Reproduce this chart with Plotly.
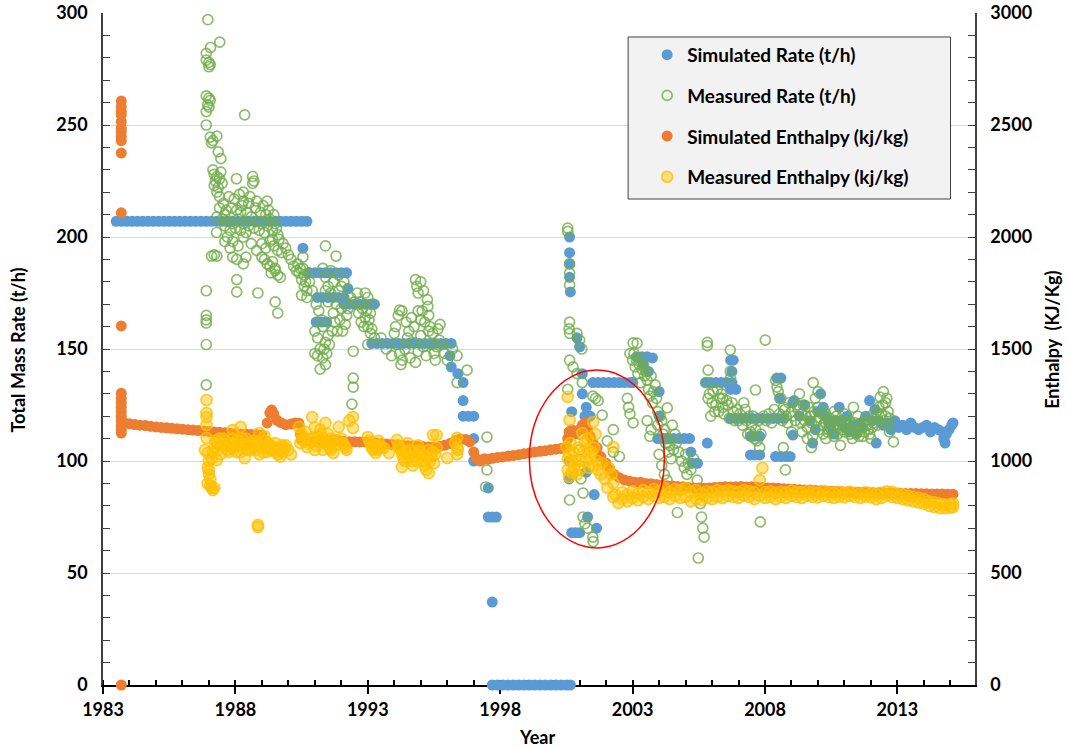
import plotly.graph_objects as go

# ---------------- DATA ----------------
# Simulated total mass rate (year, t/h)
sim_rate = [
    (1983.5, 207), (1983.7, 207), (1983.9, 207), (1984.1, 207), (1984.3, 207), (1984.5, 207),
    (1984.7, 207), (1984.9, 207), (1985.1, 207), (1985.3, 207), (1985.5, 207), (1985.7, 207),
    (1985.9, 207), (1986.1, 207), (1986.3, 207), (1986.5, 207), (1986.7, 207), (1986.9, 207),
    (1987.1, 207), (1987.3, 207), (1987.5, 207), (1987.7, 207), (1987.9, 207), (1988.1, 207),
    (1988.3, 207), (1988.5, 207), (1988.7, 207), (1988.9, 207), (1989.1, 207), (1989.3, 207),
    (1989.5, 207), (1989.7, 207), (1989.9, 207), (1990.1, 207), (1990.3, 207), (1990.5, 207),
    (1990.7, 207), (1990.55, 195),
    (1990.8, 184), (1991.0, 184), (1991.2, 184), (1991.4, 184), (1991.6, 184), (1991.8, 184),
    (1992.0, 184), (1992.2, 184),
    (1991.1, 173), (1991.3, 173), (1991.5, 173), (1991.7, 173), (1991.9, 173), (1992.1, 173),
    (1992.25, 177),
    (1992.1, 170), (1992.3, 170), (1992.5, 170), (1992.7, 170), (1992.9, 170), (1993.1, 170), (1993.25, 170),
    (1991.05, 162), (1991.25, 162), (1991.45, 162),
    (1993.15, 152.5), (1993.35, 152.5), (1993.55, 152.5), (1993.75, 152.5), (1993.95, 152.5),
    (1994.15, 152.5), (1994.35, 152.5), (1994.55, 152.5), (1994.75, 152.5), (1994.95, 152.5),
    (1995.15, 152.5), (1995.35, 152.5), (1995.55, 152.5), (1995.75, 152.5), (1995.95, 152.5),
    (1996.15, 152.5),
    (1996.1, 147), (1996.15, 142), (1996.4, 139), (1996.6, 135), (1996.6, 127), (1996.6, 120),
    (1996.8, 120), (1997.0, 120), (1997.0, 110), (1997.0, 100), (1997.55, 88), (1997.55, 75),
    (1997.7, 75), (1997.85, 75), (1997.7, 37),
    (1997.7, 0), (1997.9, 0), (1998.1, 0), (1998.3, 0), (1998.5, 0), (1998.7, 0), (1998.9, 0),
    (1999.1, 0), (1999.3, 0), (1999.5, 0), (1999.7, 0), (1999.9, 0), (2000.1, 0), (2000.3, 0),
    (2000.5, 0), (2000.65, 0),
    (2000.62, 200), (2000.62, 193), (2000.62, 188), (2000.62, 182), (2000.65, 175.5),
    (2000.6, 100), (2000.6, 92),
    (2000.9, 155), (2001.0, 151), (2001.1, 139), (2001.1, 130), (2001.25, 124), (2000.7, 122),
    (2001.2, 120), (2001.4, 120), (2001.25, 95), (2001.55, 85), (2001.3, 75), (2001.64, 70),
    (2000.7, 68), (2000.85, 68), (2001.0, 68),
    (2001.5, 135), (2001.7, 135), (2001.9, 135), (2002.1, 135), (2002.3, 135), (2002.5, 135),
    (2002.7, 135), (2002.9, 135), (2003.0, 135),
    (2003.15, 146.5), (2003.35, 146.5), (2003.55, 146.5), (2003.75, 146), (2003.4, 143), (2003.6, 140),
    (2004.0, 131), (2004.0, 120),
    (2003.95, 110), (2004.15, 110), (2004.35, 110), (2004.55, 110), (2004.75, 110), (2004.95, 110),
    (2005.15, 110), (2005.2, 104), (2005.25, 99), (2005.45, 99),
    (2005.82, 108),
    (2005.75, 135), (2005.95, 135), (2006.15, 135), (2006.35, 135), (2006.55, 135), (2006.75, 135),
    (2006.7, 145), (2006.8, 145), (2006.75, 140), (2006.7, 132), (2006.9, 132),
    (2006.7, 119), (2006.9, 119), (2007.1, 119), (2007.3, 119), (2007.5, 119), (2007.7, 119),
    (2007.9, 119), (2008.1, 119), (2008.3, 119), (2008.5, 119), (2008.7, 119),
    (2007.45, 111), (2007.6, 111), (2007.8, 111), (2007.45, 102.7), (2007.6, 102.7), (2007.8, 102.7),
    (2008.45, 137), (2008.6, 137), (2008.55, 128), (2008.4, 102), (2008.6, 102), (2008.8, 102),
    (2008.95, 102), (2009.05, 111.6), (2009.05, 126),
    (2009.1, 127), (2009.3, 120), (2009.5, 125), (2009.7, 118), (2009.8, 108), (2009.9, 114),
    (2010.0, 122), (2010.1, 130), (2010.2, 124), (2010.3, 120), (2010.4, 117), (2010.5, 114),
    (2010.6, 112), (2010.7, 118), (2010.8, 124), (2010.9, 117), (2011.0, 115), (2011.1, 120),
    (2011.2, 113), (2011.3, 116), (2011.45, 112), (2011.6, 117), (2011.7, 115), (2011.8, 120),
    (2011.95, 127), (2012.05, 118), (2012.15, 123), (2012.2, 108),
    (2012.3, 118), (2012.45, 116), (2012.6, 117), (2012.75, 114), (2012.9, 118), (2013.05, 115),
    (2013.2, 116), (2013.35, 114), (2013.5, 117), (2013.65, 115), (2013.8, 114), (2013.95, 115),
    (2014.1, 116), (2014.25, 113), (2014.4, 115), (2014.55, 114), (2014.7, 113), (2014.75, 110),
    (2014.8, 108), (2014.85, 112), (2014.95, 114), (2015.05, 116), (2015.1, 117),
]

# Measured total mass rate (year, t/h)
meas_rate = [
    (1986.96, 297), (1987.41, 287), (1987.06, 284.6), (1986.9, 282), (1986.9, 279), (1987.0, 278),
    (1987.05, 277), (1987.0, 276), (1986.9, 263), (1987.0, 262), (1986.95, 259), (1987.0, 258),
    (1987.05, 261), (1986.9, 256), (1986.9, 250), (1988.35, 254.5),
    (1987.05, 244.6), (1987.15, 243), (1987.1, 242), (1987.3, 245),
    (1987.15, 230), (1987.2, 228), (1987.3, 227), (1987.25, 225), (1987.4, 226), (1987.5, 224),
    (1987.35, 222), (1987.2, 223), (1987.45, 229),
    (1988.04, 226), (1988.65, 227), (1988.65, 224), (1988.7, 225), (1988.3, 220), (1987.4, 218),
    (1988.3, 216), (1988.5, 215), (1988.8, 216), (1989.2, 216), (1987.3, 209),
    (1987.5, 208), (1987.6, 205), (1987.7, 207), (1987.8, 203), (1987.9, 206), (1988.0, 204),
    (1988.1, 208), (1988.2, 203), (1988.3, 206), (1988.4, 202), (1988.5, 205), (1988.6, 209),
    (1988.7, 204), (1988.8, 207), (1988.9, 203), (1989.0, 206), (1989.1, 202), (1989.2, 205),
    (1989.3, 208), (1989.4, 203), (1989.5, 206), (1989.6, 201), (1987.6, 210), (1988.2, 211),
    (1987.55, 215), (1987.65, 212), (1987.75, 218), (1987.85, 213), (1987.95, 217), (1988.05, 212),
    (1988.15, 219), (1988.25, 214), (1988.45, 211), (1988.55, 218), (1988.75, 213), (1988.95, 211),
    (1989.05, 214), (1989.15, 210), (1989.25, 212), (1989.45, 210), (1989.55, 204), (1989.65, 199),
    (1989.8, 197), (1989.9, 195), (1990.0, 192), (1990.1, 190), (1990.2, 187), (1990.3, 185),
    (1987.6, 198), (1987.8, 195), (1988.6, 197), (1988.8, 194), (1989.15, 195), (1987.4, 213),
    (1987.3, 220), (1987.45, 235), (1987.35, 238),
    (1987.29, 202), (1987.7, 200), (1987.9, 198), (1988.1, 196), (1988.3, 200), (1989.0, 197),
    (1989.3, 198), (1989.45, 196), (1989.6, 194), (1989.75, 193), (1989.4, 199), (1991.4, 196),
    (1991.8, 191.5), (1990.55, 191), (1987.1, 191.5), (1987.3, 191.5), (1987.9, 191), (1988.4, 191),
    (1989.0, 191), (1987.2, 192), (1988.05, 190), (1988.3, 188), (1989.1, 190), (1989.2, 188),
    (1989.3, 187), (1989.4, 189), (1989.5, 186), (1989.35, 184), (1989.6, 183), (1989.7, 182),
    (1989.5, 185),
    (1986.9, 176), (1988.05, 181), (1988.05, 175.5), (1988.85, 175), (1989.5, 171), (1989.6, 166),
    (1986.9, 165), (1986.9, 163), (1986.9, 161.6), (1986.9, 152), (1986.9, 134),
    (1990.4, 184), (1990.5, 181), (1990.6, 178), (1990.7, 176), (1990.5, 174), (1990.8, 180),
    (1990.45, 186), (1990.6, 183), (1990.7, 173),
    (1990.35, 188), (1990.55, 186), (1990.65, 180), (1990.75, 184), (1990.9, 176), (1991.05, 170),
    (1991.15, 167), (1991.25, 163), (1991.35, 150), (1991.45, 148), (1991.55, 152), (1991.65, 158),
    (1991.75, 162), (1991.85, 158), (1991.95, 163), (1992.05, 158), (1992.15, 161), (1992.25, 168),
    (1992.35, 173), (1992.5, 171), (1992.65, 166), (1992.75, 162), (1992.85, 160), (1992.95, 167),
    (1993.05, 163), (1993.15, 159), (1993.25, 155),
    (1991.0, 158), (1991.1, 155), (1991.2, 150), (1991.3, 146), (1991.4, 143), (1991.1, 147),
    (1991.2, 141), (1991.4, 153), (1991.5, 156), (1991.3, 160), (1991.0, 148),
    (1991.3, 186), (1991.4, 182), (1991.5, 178), (1991.6, 175), (1991.7, 180), (1991.8, 170),
    (1991.9, 176), (1992.0, 168), (1992.1, 172), (1992.2, 165), (1991.6, 185), (1991.9, 183),
    (1992.0, 178), (1991.5, 171), (1991.7, 166), (1992.1, 180), (1991.4, 176),
    (1992.45, 149), (1992.45, 137), (1992.45, 133), (1992.4, 125.4),
    (1992.6, 175), (1992.7, 171), (1992.8, 168), (1992.9, 164), (1993.0, 160), (1993.1, 157),
    (1993.0, 173), (1992.9, 175), (1993.1, 166), (1993.2, 170), (1993.0, 152),
    (1994.29, 167), (1994.2, 167.4),
    (1994.0, 157), (1994.1, 152), (1994.2, 148), (1994.3, 145), (1994.4, 150), (1994.5, 155),
    (1994.6, 146), (1994.7, 153), (1994.8, 144), (1994.9, 149), (1995.0, 156), (1995.1, 151),
    (1995.2, 147), (1995.3, 158), (1995.4, 152), (1995.5, 148), (1995.6, 151), (1995.7, 154),
    (1994.25, 143), (1994.55, 158),
    (1993.5, 155), (1993.7, 150), (1993.9, 147), (1994.05, 160), (1994.15, 165), (1994.45, 162),
    (1994.65, 164), (1994.75, 160), (1995.05, 167), (1995.15, 162), (1995.25, 172), (1995.45, 157),
    (1995.55, 145), (1995.65, 159), (1995.8, 152), (1995.9, 148), (1996.0, 145), (1996.2, 150),
    (1994.8, 181), (1994.85, 178), (1994.9, 175), (1995.0, 180), (1995.1, 176),
    (1995.27, 169), (1995.3, 165), (1995.35, 160), (1995.0, 163), (1994.9, 167),
    (1995.73, 161), (1996.37, 147), (1996.75, 140.6), (1996.37, 135),
    (1997.5, 110.7), (1997.5, 96), (1997.45, 88.4),
    (2000.55, 204), (2000.55, 202.5), (2000.62, 188), (2000.62, 184), (2000.62, 178.6),
    (2000.62, 162), (2000.6, 159), (2000.62, 157), (2000.9, 157), (2001.0, 154), (2001.08, 150),
    (2000.62, 145), (2000.75, 142), (2000.9, 139), (2001.1, 135), (2000.55, 132), (2001.5, 129),
    (2001.7, 127), (2001.6, 128), (2001.85, 120.5), (2002.27, 114), (2002.04, 109), (2002.27, 104),
    (2002.5, 102), (2000.62, 82.6), (2001.13, 85.7),
    (2001.13, 75), (2001.3, 70), (2001.5, 66), (2001.51, 64), (2001.2, 72),
    (2001.0, 112), (2001.0, 105), (2001.0, 98), (2001.05, 92),
    (2003.02, 152.7), (2003.17, 152.6), (2002.9, 148), (2003.0, 145), (2003.1, 142), (2003.2, 139),
    (2003.3, 146), (2003.4, 143), (2003.5, 140), (2003.55, 136), (2003.3, 135), (2003.6, 132),
    (2003.7, 138), (2003.78, 131), (2003.9, 128), (2003.85, 134),
    (2002.8, 128), (2002.85, 124), (2002.9, 121), (2003.02, 117),
    (2003.55, 118), (2003.7, 114), (2003.65, 111),
    (2003.05, 148), (2003.15, 145), (2003.25, 143), (2003.35, 141), (2003.45, 138), (2003.65, 129),
    (2003.75, 126), (2003.95, 122), (2004.05, 120), (2004.15, 112), (2004.25, 108), (2004.35, 104),
    (2004.45, 101), (2004.55, 105), (2004.65, 108), (2004.75, 104), (2004.85, 100), (2004.95, 97),
    (2005.05, 94),
    (2004.31, 123.7), (2004.1, 118), (2004.2, 114), (2004.3, 110), (2004.4, 107), (2004.5, 116),
    (2004.6, 112), (2003.95, 116),
    (2004.0, 103), (2004.1, 98), (2004.2, 94), (2004.3, 91.5), (2004.69, 77),
    (2005.0, 103), (2005.1, 99), (2005.2, 96), (2005.3, 101), (2005.44, 91.5),
    (2005.56, 81), (2005.6, 75), (2005.65, 70), (2005.7, 66), (2005.48, 56.7),
    (2005.82, 153), (2005.82, 151.5), (2005.85, 140.6),
    (2005.8, 135), (2005.9, 130), (2006.0, 126), (2006.1, 122), (2006.2, 132), (2006.3, 128),
    (2006.4, 124), (2005.95, 120),
    (2005.85, 128), (2006.05, 131), (2006.15, 125), (2006.25, 122), (2006.35, 130), (2006.45, 121),
    (2006.55, 127), (2006.65, 119), (2006.75, 126), (2006.85, 118), (2006.95, 123), (2007.05, 121),
    (2007.15, 116), (2007.25, 123), (2007.35, 112), (2007.55, 120), (2007.65, 114), (2007.75, 118),
    (2007.85, 112), (2007.95, 120), (2008.05, 118), (2008.15, 121), (2008.25, 117), (2008.35, 123),
    (2008.55, 121), (2008.65, 118), (2008.75, 123), (2008.85, 117),
    (2006.69, 149.5), (2006.69, 140), (2006.7, 137),
    (2006.4, 128), (2006.6, 125), (2006.8, 122), (2007.0, 118), (2007.2, 126), (2007.4, 120),
    (2007.3, 118), (2007.45, 113), (2007.6, 110), (2007.8, 106), (2007.5, 116), (2007.7, 109),
    (2007.64, 131.7), (2008.01, 154), (2007.82, 72.8),
    (2008.4, 136), (2008.45, 133), (2008.5, 131), (2008.6, 128), (2008.7, 124), (2008.8, 120),
    (2008.9, 126), (2009.0, 122), (2008.69, 106), (2008.77, 96), (2009.0, 113),
    (2009.82, 135), (2009.3, 130), (2009.2, 125), (2009.4, 121), (2009.5, 118), (2009.6, 115),
    (2009.7, 120), (2009.8, 111), (2009.75, 106),
    (2010.0, 124), (2010.1, 119), (2010.2, 116), (2010.3, 121), (2010.4, 114), (2010.5, 117),
    (2010.6, 111), (2010.7, 120), (2010.85, 107), (2010.8, 115), (2010.9, 118), (2011.0, 113),
    (2011.1, 116), (2011.2, 112), (2011.34, 124), (2011.3, 110), (2011.4, 117), (2011.5, 113),
    (2011.6, 115), (2011.7, 111), (2011.8, 118), (2011.9, 114), (2012.0, 120), (2012.1, 117),
    (2012.2, 122), (2012.35, 128.5), (2012.47, 131), (2012.45, 125), (2012.55, 120),
    (2012.6, 116), (2012.85, 108.5), (2012.7, 113), (2010.2, 112),
    (2009.05, 120), (2009.15, 118), (2009.25, 123), (2009.35, 117), (2009.45, 125), (2009.55, 120),
    (2009.65, 124), (2009.75, 117), (2009.85, 122), (2009.95, 118), (2010.05, 114), (2010.15, 121),
    (2010.25, 117), (2010.35, 113), (2010.45, 119), (2010.55, 115), (2010.65, 118), (2010.75, 112),
    (2010.95, 114), (2011.05, 118), (2011.15, 114), (2011.25, 117), (2011.35, 113), (2011.45, 116),
    (2011.55, 111), (2011.65, 117), (2011.75, 113), (2011.85, 116), (2011.95, 112), (2012.05, 115),
    (2012.15, 119), (2012.25, 116), (2012.3, 124), (2012.4, 121), (2012.5, 118), (2012.55, 126),
    (2012.65, 122), (2012.7, 119), (2012.6, 128), (2009.9, 128), (2010.0, 131), (2010.6, 122),
    (2011.0, 121), (2011.5, 120), (2012.0, 110), (2010.3, 110), (2009.4, 113), (2009.6, 110),
]

# Simulated enthalpy (year, kJ/kg)
sim_enth = [
    (1983.69, 2607), (1983.69, 2582), (1983.69, 2560), (1983.69, 2545), (1983.69, 2515),
    (1983.69, 2487), (1983.69, 2470), (1983.69, 2448), (1983.69, 2430), (1983.69, 2375),
    (1983.69, 2108), (1983.69, 1603), (1983.69, 1302), (1983.69, 1280), (1983.69, 1260),
    (1983.69, 1240), (1983.69, 1220), (1983.69, 1200), (1983.69, 1180), (1983.69, 1160),
    (1983.69, 1140), (1983.69, 1125), (1983.69, 0),
    (1983.8, 1170), (1984.0, 1166), (1984.2, 1163), (1984.4, 1160), (1984.6, 1158), (1984.8, 1155),
    (1985.0, 1152), (1985.2, 1150), (1985.4, 1148), (1985.6, 1146), (1985.8, 1144), (1986.0, 1142),
    (1986.2, 1140), (1986.4, 1138), (1986.6, 1136), (1986.8, 1134), (1987.0, 1132), (1987.2, 1130),
    (1987.4, 1128), (1987.6, 1126), (1987.8, 1124), (1988.0, 1122), (1988.2, 1121), (1988.4, 1120),
    (1988.6, 1118), (1988.8, 1117), (1989.0, 1116), (1989.2, 1170), (1989.3, 1215), (1989.37, 1228),
    (1989.45, 1210), (1989.56, 1183), (1989.7, 1172), (1989.9, 1162), (1990.1, 1165), (1990.25, 1170),
    (1990.4, 1168), (1990.45, 1120), (1990.5, 1094), (1990.7, 1090), (1990.9, 1085), (1991.1, 1088),
    (1991.3, 1090), (1991.5, 1092), (1991.7, 1094), (1991.9, 1090), (1992.1, 1088), (1992.3, 1086),
    (1992.5, 1086), (1992.7, 1085), (1992.9, 1085), (1993.1, 1082), (1993.3, 1080), (1993.5, 1078),
    (1993.7, 1076), (1993.9, 1074), (1994.1, 1072), (1994.3, 1070), (1994.5, 1068), (1994.7, 1067),
    (1994.9, 1065), (1995.1, 1064), (1995.3, 1062), (1995.5, 1062), (1995.7, 1065), (1995.9, 1070),
    (1996.1, 1078), (1996.3, 1090), (1996.5, 1098), (1996.7, 1096), (1996.85, 1085), (1997.0, 1040),
    (1997.1, 1010), (1997.25, 1000), (1997.4, 1010), (1997.55, 1008), (1997.7, 1012), (1997.9, 1016),
    (1998.1, 1018), (1998.3, 1022), (1998.5, 1025), (1998.7, 1028), (1998.9, 1032), (1999.1, 1036),
    (1999.3, 1040), (1999.5, 1043), (1999.7, 1046), (1999.9, 1050), (2000.1, 1053), (2000.3, 1056),
    (2000.5, 1060), (2000.55, 1100), (2000.6, 1130), (2000.7, 1140), (2000.8, 1120), (2000.9, 1130),
    (2001.0, 1140), (2001.1, 1160), (2001.2, 1170), (2001.3, 1140), (2001.4, 1110), (2001.5, 1080),
    (2001.66, 1060), (2001.8, 1020), (2002.0, 990), (2002.15, 960), (2002.3, 940), (2002.5, 925),
    (2002.7, 915), (2002.9, 910), (2003.1, 905), (2003.3, 905), (2003.5, 900), (2003.7, 898),
    (2003.9, 895), (2004.1, 893), (2004.3, 890), (2004.5, 888), (2004.7, 886), (2004.9, 885),
    (2005.1, 882), (2005.3, 880), (2005.5, 880), (2005.7, 878), (2005.9, 880), (2006.1, 882),
    (2006.3, 883), (2006.5, 885), (2006.7, 884), (2006.9, 885), (2007.1, 886), (2007.3, 884),
    (2007.5, 885), (2007.7, 883), (2007.9, 882), (2008.1, 880), (2008.3, 879), (2008.5, 878),
    (2008.7, 876), (2008.9, 875), (2009.1, 874), (2009.3, 872), (2009.5, 871), (2009.7, 870),
    (2009.9, 868), (2010.1, 867), (2010.3, 866), (2010.5, 865), (2010.7, 864), (2010.9, 863),
    (2011.1, 862), (2011.3, 861), (2011.5, 860), (2011.7, 860), (2011.9, 859), (2012.1, 858),
    (2012.3, 858), (2012.5, 857), (2012.7, 857), (2012.9, 856), (2013.1, 856), (2013.3, 855),
    (2013.5, 855), (2013.7, 855), (2013.9, 854), (2014.1, 854), (2014.3, 853), (2014.5, 853),
    (2014.7, 853), (2014.9, 852), (2015.1, 852),
]

# Measured enthalpy (year, kJ/kg)
meas_enth = [
    (1986.91, 1272), (1986.91, 1214), (1986.91, 1196), (1986.91, 1161), (1986.91, 1103),
    (1986.85, 1049), (1986.95, 1036), (1987.0, 1000), (1986.95, 970), (1987.0, 940), (1987.05, 920),
    (1986.95, 900), (1987.05, 890), (1987.1, 880), (1987.15, 870), (1987.2, 880), (1987.0, 960),
    (1987.1, 1010), (1987.15, 1040),
    (1987.2, 1060), (1987.3, 1080), (1987.4, 1100), (1987.5, 1070), (1987.6, 1090), (1987.7, 1050),
    (1987.8, 1080), (1987.9, 1100), (1988.0, 1060), (1988.1, 1090), (1988.2, 1040), (1988.3, 1070),
    (1988.4, 1100), (1988.5, 1080), (1988.6, 1050), (1988.7, 1090), (1988.8, 1070), (1988.9, 1030),
    (1989.0, 1060), (1989.1, 1090), (1989.2, 1040), (1989.3, 1070), (1989.4, 1050), (1989.5, 1080),
    (1989.6, 1030), (1989.7, 1060), (1989.8, 1040), (1989.9, 1070), (1987.3, 1004), (1988.35, 1013),
    (1987.9, 1138), (1988.2, 1152), (1988.9, 1125), (1989.1, 1110), (1989.7, 1020), (1990.0, 1050),
    (1990.1, 1030), (1988.85, 714), (1988.85, 705),
    (1987.25, 1090), (1987.35, 1050), (1987.45, 1030), (1987.55, 1100), (1987.65, 1070),
    (1987.75, 1040), (1987.85, 1060), (1987.95, 1080), (1988.05, 1040), (1988.15, 1070),
    (1988.25, 1100), (1988.45, 1050), (1988.55, 1060), (1988.65, 1080), (1988.75, 1050),
    (1988.95, 1070), (1989.05, 1040), (1989.15, 1060), (1989.25, 1080), (1989.35, 1050),
    (1989.45, 1060), (1989.55, 1040), (1989.65, 1050), (1989.75, 1070), (1989.85, 1060),
    (1990.4, 1152), (1990.5, 1120), (1990.6, 1090), (1990.7, 1063), (1990.8, 1100),
    (1990.45, 1080), (1990.55, 1100), (1990.65, 1130), (1990.75, 1080), (1990.95, 1100),
    (1991.05, 1070), (1991.15, 1090), (1991.25, 1120), (1991.35, 1100), (1991.45, 1080),
    (1991.55, 1060), (1991.65, 1100), (1991.75, 1070), (1991.85, 1090), (1992.05, 1080),
    (1992.15, 1060),
    (1990.9, 1196), (1991.0, 1150), (1991.1, 1110), (1991.2, 1080), (1991.3, 1050), (1991.4, 1170),
    (1991.5, 1120), (1991.6, 1090), (1991.7, 1036), (1991.2, 1140), (1991.0, 1049), (1991.6, 1049),
    (1991.9, 1152), (1992.44, 1196), (1992.44, 1147), (1992.3, 1180), (1992.0, 1100), (1992.1, 1070),
    (1992.2, 1050),
    (1993.0, 1107), (1993.1, 1080), (1993.2, 1050), (1993.3, 1036), (1993.4, 1090), (1993.5, 1060),
    (1993.8, 1036), (1993.6, 1058),
    (1993.05, 1090), (1993.15, 1060), (1993.25, 1070), (1993.35, 1050), (1993.45, 1070),
    (1994.1, 1094), (1994.2, 1060), (1994.3, 1030), (1994.4, 1000), (1994.5, 1080), (1994.6, 1050),
    (1994.7, 980), (1994.8, 1020), (1994.9, 1070), (1995.0, 1040), (1995.1, 1000), (1995.2, 960),
    (1995.3, 1050), (1995.4, 1020), (1995.5, 990), (1995.6, 1060), (1995.46, 1116), (1994.29, 973),
    (1995.3, 946), (1995.6, 1116), (1996.0, 1013), (1996.37, 1103), (1996.37, 1060), (1996.37, 1030),
    (1994.15, 1070), (1994.25, 1050), (1994.35, 1010), (1994.45, 1040), (1994.55, 1020),
    (1994.65, 1000), (1994.75, 1040), (1994.85, 1000), (1994.95, 1050), (1995.05, 1020),
    (1995.15, 980), (1995.25, 1020), (1995.35, 1000), (1995.45, 1040), (1995.55, 1030),
    (1996.3, 1080), (1996.4, 1050),
    (2000.55, 1286), (2000.62, 1183), (2000.5, 1063), (2000.6, 1030), (2000.7, 1000), (2000.8, 970),
    (2000.9, 940), (2001.0, 960), (2000.55, 1010), (2000.65, 1080), (2001.1, 1125), (2001.2, 1080),
    (2001.3, 1050), (2001.4, 1010), (2001.5, 980), (2001.66, 1000), (2001.51, 1174), (2001.3, 1100),
    (2001.85, 991), (2002.27, 1063), (2002.27, 902), (2002.2, 940), (2002.27, 839), (2002.46, 812),
    (2002.1, 970),
    (2000.55, 960), (2000.6, 930), (2000.7, 950), (2000.75, 1040), (2000.85, 1000), (2000.95, 1060),
    (2001.05, 1000), (2001.15, 1040), (2001.25, 1000), (2001.35, 970), (2001.45, 1040),
    (2001.55, 1060), (2001.6, 1120), (2001.7, 960), (2001.8, 940), (2001.95, 920), (2002.05, 880),
    (2002.35, 850),
    (2002.6, 830), (2002.6, 860), (2002.8, 820), (2002.8, 850), (2003.0, 835), (2003.0, 865),
    (2003.2, 825), (2003.2, 855), (2003.4, 840), (2003.4, 870), (2003.6, 830), (2003.6, 860),
    (2003.8, 845), (2003.8, 875), (2004.0, 835), (2004.0, 865), (2004.2, 840), (2004.2, 880),
    (2004.4, 830), (2004.4, 860), (2004.6, 845), (2004.6, 875), (2004.8, 835), (2004.8, 870),
    (2005.0, 840), (2005.0, 880), (2005.2, 820), (2005.2, 860), (2005.4, 830), (2005.4, 870),
    (2005.6, 825), (2005.6, 855), (2005.8, 835), (2005.8, 865), (2006.0, 830), (2006.0, 860),
    (2006.2, 840), (2006.2, 870), (2006.4, 835), (2006.4, 865), (2006.6, 845), (2006.6, 870),
    (2006.8, 840), (2006.8, 865), (2007.0, 835), (2007.0, 860), (2007.2, 845), (2007.2, 870),
    (2007.4, 840), (2007.4, 865), (2007.6, 830), (2007.6, 860), (2007.8, 845), (2007.8, 915),
    (2007.9, 969), (2008.0, 835), (2008.0, 860), (2008.2, 840), (2008.2, 865), (2008.4, 830),
    (2008.4, 858), (2008.6, 840), (2008.6, 862), (2008.8, 835), (2008.8, 860), (2009.0, 845),
    (2009.0, 868), (2009.2, 840), (2009.2, 862), (2009.4, 835), (2009.4, 860), (2009.6, 845),
    (2009.6, 866), (2009.8, 840), (2009.8, 862), (2010.0, 838), (2010.0, 858), (2010.2, 845),
    (2010.2, 865), (2010.4, 840), (2010.4, 860), (2010.6, 835), (2010.6, 858), (2010.8, 842),
    (2010.8, 862), (2011.0, 838), (2011.0, 858), (2011.2, 845), (2011.2, 862), (2011.4, 840),
    (2011.4, 858), (2011.6, 835), (2011.6, 855), (2011.8, 842), (2011.8, 860), (2012.0, 838),
    (2012.0, 856), (2012.2, 830), (2012.2, 852), (2012.4, 835), (2012.4, 858), (2012.6, 845),
    (2012.6, 865), (2012.8, 840), (2012.8, 862), (2013.0, 835), (2013.0, 855), (2013.2, 830),
    (2013.2, 850), (2013.4, 825), (2013.4, 845), (2013.6, 820), (2013.6, 840), (2013.8, 815),
    (2013.8, 835), (2014.0, 810), (2014.0, 830), (2014.2, 800), (2014.2, 820), (2014.4, 795),
    (2014.4, 815), (2014.6, 790), (2014.6, 810), (2014.8, 790), (2014.8, 805), (2015.0, 792),
    (2015.0, 808), (2015.1, 795), (2015.1, 810),
]

# axis settings
x_range = [1983, 2015.93]
x_ticks = [1983, 1988, 1993, 1998, 2003, 2008, 2013]
rate_range = [0, 300]
enth_range = [0, 3000]

# highlighted region (red ellipse) in data units
ellipse_x = [1999.1, 2004.2]
ellipse_y = [61.2, 140.6]

FONT = "Lato"


def unzip(pairs):
    return [p[0] for p in pairs], [p[1] for p in pairs]


fig = go.Figure()

x, y = unzip(sim_rate)
fig.add_trace(go.Scatter(
    x=x, y=y, mode="markers", name="Simulated Rate (t/h)", legendgroup="a",
    marker=dict(size=11, color="#5B9BD5", line=dict(width=0)), cliponaxis=False))

x, y = unzip(meas_rate)
fig.add_trace(go.Scatter(
    x=x, y=y, mode="markers", name="Measured Rate (t/h)", legendgroup="b",
    marker=dict(size=10, symbol="circle-open", color="rgba(112,173,71,0.8)", line=dict(width=1.7)),
    cliponaxis=False))

x, y = unzip(sim_enth)
fig.add_trace(go.Scatter(
    x=x, y=y, mode="markers", name="Simulated Enthalpy (kj/kg)", legendgroup="c", yaxis="y2",
    marker=dict(size=11, color="#ED7D31", line=dict(width=0)), cliponaxis=False))

x, y = unzip(meas_enth)
fig.add_trace(go.Scatter(
    x=x, y=y, mode="markers", name="Measured Enthalpy (kj/kg)", legendgroup="d", yaxis="y2",
    marker=dict(size=11, color="rgba(255,192,0,0.45)",
                line=dict(width=1.7, color="rgba(255,192,0,0.8)")),
    cliponaxis=False))

tickfont = dict(family=FONT, size=18, color="black", weight="bold")
titlefont = dict(family=FONT, size=18, color="black", weight="bold")

fig.update_layout(
    width=1067, height=748,
    margin=dict(l=103, r=92, t=13, b=63),
    paper_bgcolor="white", plot_bgcolor="white",
    font=dict(family=FONT, color="black"),
    showlegend=True,
    legend=dict(
        x=0.624, y=0.966, xanchor="left", yanchor="top",
        bgcolor="rgba(0,0,0,0)", borderwidth=0,
        font=dict(family=FONT, size=19, color="black", weight="bold"),
        tracegroupgap=13, itemwidth=30,
    ),
    xaxis=dict(
        range=x_range, tickmode="array", tickvals=x_ticks,
        ticktext=[str(t) for t in x_ticks], automargin=False,
        showgrid=False, zeroline=False,
        showline=True, linecolor="black", linewidth=2,
        ticks="outside", ticklen=7, tickwidth=2, tickcolor="black",
        minor=dict(dtick=1, tick0=1983, ticks="inside", ticklen=5, tickwidth=1.5,
                   tickcolor="black", showgrid=False),
        tickfont=tickfont, layer="below traces",
    ),
    yaxis=dict(
        range=rate_range, tickmode="linear", tick0=0, dtick=50, automargin=False,
        showgrid=True, gridcolor="#D9D9D9", gridwidth=1, zeroline=False,
        showline=True, linecolor="#404040", linewidth=1.5,
        ticks="inside", ticklen=7, tickcolor="#404040",
        minor=dict(dtick=10, ticks="inside", ticklen=7, tickcolor="#404040", showgrid=False),
        tickfont=tickfont, ticklabelstandoff=10,
    ),
    yaxis2=dict(
        range=enth_range, overlaying="y", side="right", tickmode="linear", tick0=0, dtick=500,
        automargin=False,
        showgrid=False, zeroline=False,
        showline=True, linecolor="#404040", linewidth=1.5,
        ticks="inside", ticklen=7, tickcolor="#404040",
        minor=dict(dtick=100, ticks="inside", ticklen=7, tickcolor="#404040", showgrid=False),
        tickfont=tickfont, ticklabelstandoff=10,
    ),
    shapes=[
        dict(type="rect", xref="paper", yref="paper", x0=0.6022, x1=0.9719, y0=0.7232, y1=0.9643,
             fillcolor="#F2F2F2", line=dict(color="#404040", width=1), layer="above"),
        dict(type="circle", xref="x", yref="y", x0=ellipse_x[0], x1=ellipse_x[1],
             y0=ellipse_y[0], y1=ellipse_y[1], line=dict(color="#FF0000", width=1.5),
             fillcolor="rgba(0,0,0,0)", layer="above"),
    ],
    annotations=[
        dict(text="Total Mass Rate (t/h)", xref="paper", yref="paper", x=-0.098, y=0.4985,
             textangle=-90, showarrow=False, xanchor="center", yanchor="middle", font=titlefont),
        dict(text="Enthalpy  (KJ/Kg)", xref="paper", yref="paper", x=1.089, y=0.513,
             textangle=-90, showarrow=False, xanchor="center", yanchor="middle", font=titlefont),
        dict(text="Year", xref="paper", yref="paper", x=0.4978, y=-0.0774,
             showarrow=False, xanchor="center", yanchor="middle", font=titlefont),
    ],
)

fig.write_html("out.html")
